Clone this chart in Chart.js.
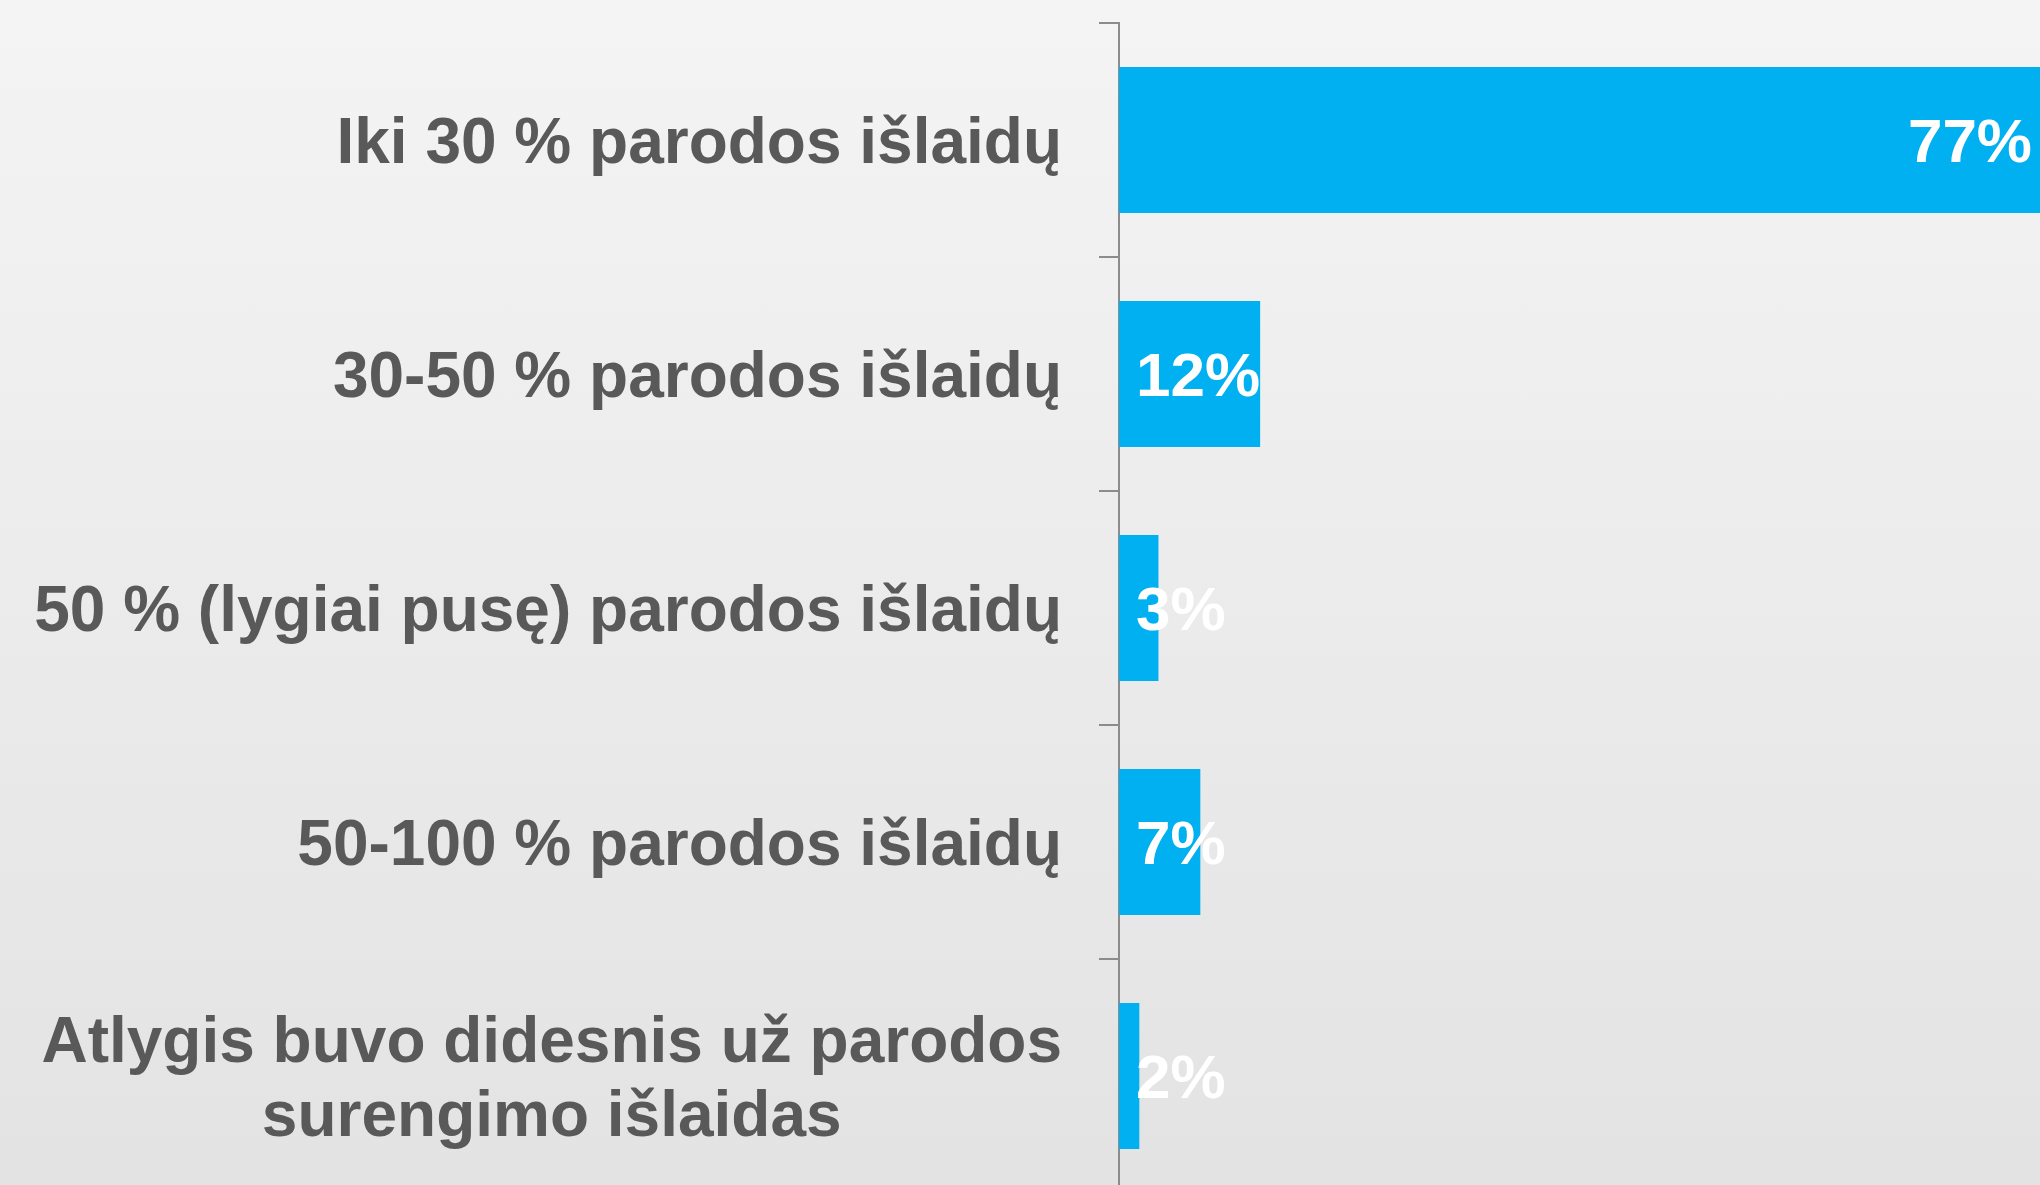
<!DOCTYPE html>
<html lang="lt">
<head>
  <meta charset="UTF-8" />
  <title>Atlygis už parodos surengimą</title>
  <script src="https://cdn.jsdelivr.net/npm/chart.js"></script>
  <style>
    html, body {
      margin: 0; padding: 0;
      width: 2040px; height: 1185px;
      overflow: hidden;
      background: linear-gradient(#f4f4f4, #e3e3e3);
    }
    #chartArea {
      position: absolute; left: 0; top: 0;
      width: 2040px; height: 1200px;
    }
  </style>
</head>
<body>
  <div id="chartArea">
    <canvas id="shareChart"></canvas>
  </div>

  <script>
    // --- data ---
    const categories = [
      ['Iki 30 % parodos išlaidų'],
      ['30-50 % parodos išlaidų'],
      ['50 % (lygiai pusę) parodos išlaidų'],
      ['50-100 % parodos išlaidų'],
      ['Atlygis buvo didesnis už parodos', 'surengimo išlaidas']
    ];
    const shares = [77, 11.8, 3.3, 6.8, 1.7];
    const shareLabels = ['77%', '12%', '3%', '7%', '2%'];

    const FONT = "'Liberation Sans', Arial, sans-serif";

    // category labels: block right-aligned to the axis, lines centred inside the block
    const categoryLabels = {
      id: 'categoryLabels',
      afterDraw(chart) {
        const ctx = chart.ctx;
        const y = chart.scales.y;
        const size = 64, lineH = 74, cap = size * 0.716;
        const right = chart.chartArea.left - 57;
        ctx.save();
        ctx.font = 'bold ' + size + 'px ' + FONT;
        ctx.fillStyle = '#595959';
        ctx.textAlign = 'center';
        ctx.textBaseline = 'alphabetic';
        chart.data.labels.forEach((lines, i) => {
          const cy = y.getPixelForValue(i);
          const w = Math.max(...lines.map(l => ctx.measureText(l).width));
          const cx = right - w / 2;
          const top = cy - ((lines.length - 1) * lineH + cap) / 2;
          lines.forEach((l, k) => ctx.fillText(l, cx, top + cap + k * lineH));
        });
        ctx.restore();
      }
    };

    // value labels: at the bar end when they fit, otherwise just after the base
    const valueLabels = {
      id: 'valueLabels',
      afterDatasetsDraw(chart) {
        const ctx = chart.ctx;
        const size = 62, cap = size * 0.716;
        ctx.save();
        ctx.font = 'bold ' + size + 'px ' + FONT;
        ctx.fillStyle = '#ffffff';
        ctx.textBaseline = 'alphabetic';
        chart.getDatasetMeta(0).data.forEach((bar, i) => {
          const txt = shareLabels[i];
          const w = ctx.measureText(txt).width;
          const barW = bar.x - bar.base;
          if (barW > w + 40) {
            ctx.textAlign = 'right';
            ctx.fillText(txt, bar.x - 8, bar.y + cap / 2);
          } else {
            ctx.textAlign = 'left';
            ctx.fillText(txt, bar.base + 17, bar.y + cap / 2);
          }
        });
        ctx.restore();
      }
    };

    new Chart(document.getElementById('shareChart'), {
      type: 'bar',
      data: {
        labels: categories,
        datasets: [{
          data: shares,
          backgroundColor: '#00b0f0',
          borderWidth: 0,
          barPercentage: 0.624,
          categoryPercentage: 1
        }]
      },
      options: {
        indexAxis: 'y',
        responsive: true,
        maintainAspectRatio: false,
        animation: false,
        layout: { padding: { top: 23, bottom: 7, left: 0, right: 0 } },
        scales: {
          x: { display: false, min: 0, max: 77 },
          y: {
            afterFit(scale) { scale.width = 1119; },
            ticks: { display: false },
            grid: {
              offset: true,
              drawOnChartArea: false,
              drawTicks: true,
              tickLength: 20,
              color: '#8c8c8c',
              lineWidth: 2
            },
            border: { display: true, color: '#8c8c8c', width: 2 }
          }
        },
        plugins: {
          legend: { display: false },
          tooltip: { enabled: false }
        }
      },
      plugins: [categoryLabels, valueLabels]
    });
  </script>
</body>
</html>
